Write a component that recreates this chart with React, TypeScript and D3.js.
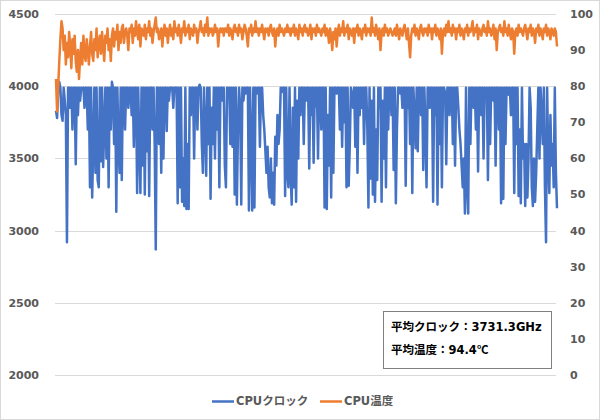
import * as d3 from "d3";
import React, { useEffect, useRef } from "react";

// CPU clock (MHz) left to right
const clockValues: number[] = [
  3830, 3780, 3990, 4030, 3990, 3800, 3760, 3990, 3900, 3800, 2920,
  3990, 3990, 3850, 3990, 3700, 3990, 3990, 3460, 3990, 3800,
  3990, 3900, 3990, 3980, 3990, 3850, 3990, 3990, 3700, 3990,
  3300, 3990, 3230, 3600, 3990, 3400, 3990, 3350, 3300, 3990,
  3480, 3990, 3440, 3700, 3990, 3500, 3990, 3300, 3990, 3700,
  4030, 3990, 3600, 3990, 3130, 3990, 3580, 3400, 3990, 3350,
  3990, 3990, 3700, 3990, 3990, 3850, 3990, 3990, 3800, 3990,
  3580, 3990, 3990, 3260, 3990, 3600, 3260, 3990, 3450, 3990,
  3250, 3990, 3550, 3990, 3240, 3990, 3990, 3700, 3990, 3600,
  2870, 3990, 3990, 3600, 3990, 3400, 3990, 3500, 3990, 3990,
  3690, 3990, 3900, 3990, 3990, 3990, 3850, 3990, 3990, 3990,
  3190, 3990, 3300, 3990, 3200, 3500, 3170, 3990, 3150, 3600,
  3150, 3990, 3800, 3990, 3990, 3500, 3990, 3990, 3700, 3990,
  4010, 3990, 3600, 3400, 3990, 3700, 3380, 3990, 3600, 3990,
  3220, 3850, 3600, 3990, 3500, 3990, 3700, 3990, 3300, 3990,
  3990, 3900, 3990, 3450,
  3300, 3990, 3950, 3990, 3600, 3990, 3580, 3990, 3250, 3990,
  3180, 3700, 3990, 3850, 3180, 3990, 3900, 3990, 3950, 3990,
  3990, 3140, 3990, 3600, 3140, 3990, 3160, 3990, 3950, 3990,
  3990, 3580, 3990, 3990, 3800, 3700, 3550, 3400, 3580, 3300,
  3230, 3500, 3190, 3400, 3180, 3650, 3450, 3800, 3600, 3700,
  3990, 3960, 3990, 3990, 3240, 3990, 3400, 3300, 3990, 3400,
  3180, 3850, 3300, 3990, 3200, 3900, 3500, 3990, 3800, 3990,
  3990, 3600, 3990, 3900, 3990, 3990, 3430, 3990, 3800, 3990,
  3470, 3990, 3860, 3990, 3500, 3990, 3990, 3700, 3990, 3990,
  3160, 3990, 3150, 3800, 3450, 3990, 3230, 3990, 3400, 3990,
  3990, 3950, 3990, 3990, 3700, 3990, 3580, 3990, 3750, 3990,
  3300, 3990, 3310, 3600, 3990, 3940, 3850, 3990, 3580, 3990,
  3400, 3990, 3800, 3990, 3850, 3990, 3600, 3990, 3990, 3700,
  3160, 3990, 3360, 3900, 3250, 3990, 3200, 3700, 3350, 3990,
  3850, 3990, 3200, 3900, 3500, 3990, 3300, 3990, 3700, 3990,
  3990, 3800, 3990,
  3420, 3990, 3190, 3700, 3990, 3990, 3950, 3990, 3850, 3990,
  3990, 3310, 3990, 3850, 3990, 3600, 3990, 3260, 3990, 3800,
  3570, 3990, 3550, 3990, 3990, 3800, 3990, 3420, 3990, 3700,
  3300, 3990, 3990, 3850, 3990, 3990, 3200, 3990, 3800, 3990,
  3180, 3990, 3600, 3990, 3300, 3990, 3990, 3950, 3460, 3990,
  3990, 3800, 3990, 3990, 3600, 3990, 3450, 3990, 3990, 3850,
  3700, 3600, 3450, 3300, 3500, 3118, 3990, 3300, 3118, 3990,
  3600, 3990, 3990, 3850, 3990, 3700, 3990, 3410, 3990, 3990,
  3800, 3990, 3500, 3990, 3950, 3990, 3350, 3990, 3600, 3990,
  3990, 3900, 3990, 3450, 3990, 3990, 3700, 3990, 3190, 3990,
  3220, 3990, 3600, 3990, 3990, 3940, 3990, 3800, 3990, 3990,
  3260, 3990, 3600, 3990, 3240, 3700, 3190, 3990, 3500, 3600,
  3170, 3600, 3230, 3500, 3990, 3850, 3300, 3170, 3500, 3200,
  3400, 3700, 3990, 3500, 3990, 3800, 3600, 3990, 3300, 2920,
  3990, 3500, 3260, 3800, 3450, 3600, 3300, 3990, 3400, 3155,
];

// CPU temperature (°C)
const tempValues: number[] = [
  82, 73, 80, 87, 93, 98, 96, 90, 94, 86, 92,
  88, 95, 91, 85, 93, 89, 94, 87, 84, 90,
  82, 88, 92, 86, 94, 89, 87, 93, 90, 86,
  91, 95, 89, 87, 93, 90, 96, 88, 92, 94,
  89, 95, 91, 87, 94, 92, 96, 90, 93, 87,
  94, 96, 91, 95, 93, 97, 90, 95, 92, 96,
  97, 92, 95, 96, 94, 90, 96, 95, 97, 92,
  96, 94, 98, 95, 93, 97, 91, 96, 95, 94,
  97, 93, 96, 95, 98, 94, 96, 92, 95, 97,
  99, 95, 96, 93, 94, 96, 91, 95, 97, 94,
  96, 92, 95, 97, 94, 96, 93, 98, 95, 96,
  94, 97, 95, 92, 96, 95, 98, 94, 96, 95,
  97, 93, 96, 95, 94, 97, 95, 96, 92, 95,
  96, 98, 95, 96, 94, 97, 95, 99, 94, 96,
  95, 96, 94, 95, 97, 95, 96, 91, 95, 96,
  95, 96, 94, 96,
  96, 95, 97, 94, 96, 95, 93, 96, 97, 95,
  96, 94, 97, 95, 96, 93, 95, 97, 96, 94,
  91, 96, 95, 97, 94, 96, 95, 98, 95, 96,
  94, 96, 95, 97, 95, 93, 96, 95, 96, 94,
  96, 97, 95, 94, 96, 91, 95, 96, 94, 97,
  95, 96, 95, 94, 96, 95, 97, 95, 96, 94,
  96, 95, 97, 94, 96, 95, 93, 97, 95, 96,
  94, 96, 97, 95, 96, 94, 95, 97, 93, 96,
  95, 96, 94, 97, 95, 96, 95, 94, 96, 95,
  97, 94, 96, 95, 92, 96, 94, 90, 95, 93,
  96, 91, 95, 97, 94, 96, 95, 98, 94, 96,
  95, 97, 93, 96, 95, 94, 96, 92, 96, 95,
  97, 94, 96, 95, 93, 96, 95, 97, 94, 96,
  95, 96, 94, 99, 95, 96, 94, 97, 95, 93,
  96, 90, 95, 96, 94, 97, 95, 96, 94, 95,
  96, 95, 94,
  95, 96, 94, 97, 95, 93, 96, 95, 94, 96,
  97, 95, 93, 96, 92, 88, 94, 96, 95, 97,
  94, 96, 95, 93, 96, 97, 95, 94, 96, 95,
  96, 94, 97, 95, 96, 93, 96, 95, 97, 94,
  96, 95, 93, 96, 89, 95, 96, 94, 97, 95,
  98, 95, 96, 94, 97, 95, 96, 93, 96, 95,
  97, 94, 96, 95, 93, 96, 95, 97, 94, 96,
  95, 96, 98, 94, 96, 95, 97, 93, 96, 95,
  94, 96, 97, 95, 96, 94, 98, 95, 96, 94,
  95, 97, 93, 96, 90, 95, 96, 97, 95, 96,
  94, 98, 95, 96, 94, 97, 95, 93, 96, 95,
  89, 95, 96, 94, 97, 95, 96, 95, 94, 96,
  97, 95, 93, 96, 95, 97, 94, 96, 95, 92,
  96, 95, 97, 94, 96, 95, 93, 96, 95, 97,
  94, 96, 95, 93, 96, 95, 94, 96, 95, 91,
];

const leftTicks = [2000, 2500, 3000, 3500, 4000, 4500];
const rightTicks = [0, 10, 20, 30, 40, 50, 60, 70, 80, 90, 100];
const seriesNames = ["CPUクロック", "CPU温度"];
// [label, value, unit]
const summaryLines: [string, string, string][] = [
  ["平均クロック：", "3731.3GHz", ""],
  ["平均温度：", "94.4", "℃"],
];

const W = 600;
const H = 420;
const BLUE = "#4472C4";
const ORANGE = "#ED7D31";
const FONT = "'DejaVu Sans', 'Noto Sans CJK JP', sans-serif";
const CJK_FONT = "'Noto Sans CJK JP', sans-serif";

const App: React.FC = () => {
  const svgRef = useRef<SVGSVGElement | null>(null);

  useEffect(() => {
    const svg = d3.select(svgRef.current);
    svg.selectAll("*").remove();

    const plotLeft = 55;
    const plotRight = 556;

    const yLeft = d3.scaleLinear().domain([2000, 4500]).range([375, 14]);
    const yRight = d3.scaleLinear().domain([0, 100]).range([375, 14]);

    // outer frame
    svg
      .append("rect")
      .attr("x", 0.5)
      .attr("y", 0.5)
      .attr("width", W - 1)
      .attr("height", H - 1)
      .attr("fill", "#fff")
      .attr("stroke", "#D9D9D9");

    // gridlines
    svg
      .append("g")
      .selectAll("line")
      .data(leftTicks)
      .enter()
      .append("line")
      .attr("x1", plotLeft)
      .attr("x2", plotRight)
      .attr("y1", (d) => Math.round(yLeft(d)) + 0.5)
      .attr("y2", (d) => Math.round(yLeft(d)) + 0.5)
      .attr("stroke", "#D9D9D9")
      .attr("stroke-width", 1);

    // left tick labels
    svg
      .append("g")
      .selectAll("text")
      .data(leftTicks)
      .enter()
      .append("text")
      .attr("x", 39)
      .attr("y", (d) => yLeft(d))
      .attr("dy", "0.36em")
      .attr("text-anchor", "end")
      .style("font-family", FONT)
      .style("font-size", "11px")
      .style("font-weight", "bold")
      .style("fill", "#595959")
      .text((d) => d);

    // right tick labels
    svg
      .append("g")
      .selectAll("text")
      .data(rightTicks)
      .enter()
      .append("text")
      .attr("x", 570)
      .attr("y", (d) => yRight(d))
      .attr("dy", "0.36em")
      .attr("text-anchor", "start")
      .style("font-family", FONT)
      .style("font-size", "11px")
      .style("font-weight", "bold")
      .style("fill", "#595959")
      .text((d) => d);

    const xClock = d3
      .scaleLinear()
      .domain([0, clockValues.length - 1])
      .range([plotLeft + 1, plotRight + 1]);
    const xTemp = d3
      .scaleLinear()
      .domain([0, tempValues.length - 1])
      .range([plotLeft + 1, plotRight + 1]);

    const clockLine = d3
      .line<number>()
      .x((_, i) => xClock(i))
      .y((d) => yLeft(d));
    const tempLine = d3
      .line<number>()
      .x((_, i) => xTemp(i))
      .y((d) => yRight(d));

    svg
      .append("path")
      .datum(clockValues)
      .attr("d", clockLine)
      .attr("fill", "none")
      .attr("stroke", BLUE)
      .attr("stroke-width", 2.5)
      .attr("stroke-linejoin", "round");

    svg
      .append("path")
      .datum(tempValues)
      .attr("d", tempLine)
      .attr("fill", "none")
      .attr("stroke", ORANGE)
      .attr("stroke-width", 2.5)
      .attr("stroke-linejoin", "round");

    // summary box
    const box = svg.append("g");
    box
      .append("rect")
      .attr("x", 383.5)
      .attr("y", 311.5)
      .attr("width", 168)
      .attr("height", 57)
      .attr("fill", "#fff")
      .attr("stroke", "#7F7F7F");
    const lines = box
      .selectAll("text")
      .data(summaryLines)
      .enter()
      .append("text")
      .attr("x", 391)
      .attr("y", (_, i) => 331 + i * 23)
      .style("font-family", FONT)
      .style("font-size", "11.5px")
      .style("font-weight", "bold")
      .style("fill", "#000");
    lines.append("tspan").text((d) => d[0] + d[1]);
    lines
      .append("tspan")
      .style("font-family", CJK_FONT)
      .text((d) => d[2]);

    // legend
    const legendColors = [BLUE, ORANGE];
    const legendX = [212, 320];
    const legend = svg
      .append("g")
      .selectAll("g")
      .data(seriesNames)
      .enter()
      .append("g")
      .attr("transform", (_, i) => `translate(${legendX[i]}, 401)`);
    legend
      .append("line")
      .attr("x1", 0)
      .attr("x2", 22)
      .attr("y1", 0.5)
      .attr("y2", 0.5)
      .attr("stroke", (_, i) => legendColors[i])
      .attr("stroke-width", 2.5);
    legend
      .append("text")
      .attr("x", 24)
      .attr("y", 0)
      .attr("dy", "0.36em")
      .style("font-family", FONT)
      .style("font-size", "11.5px")
      .style("font-weight", "bold")
      .style("fill", "#595959")
      .text((d) => d);
  }, []);

  return (
    <svg
      ref={svgRef}
      width={W}
      height={H}
      style={{ position: "absolute", left: 0, top: 0, display: "block" }}
    ></svg>
  );
};

export default App;
